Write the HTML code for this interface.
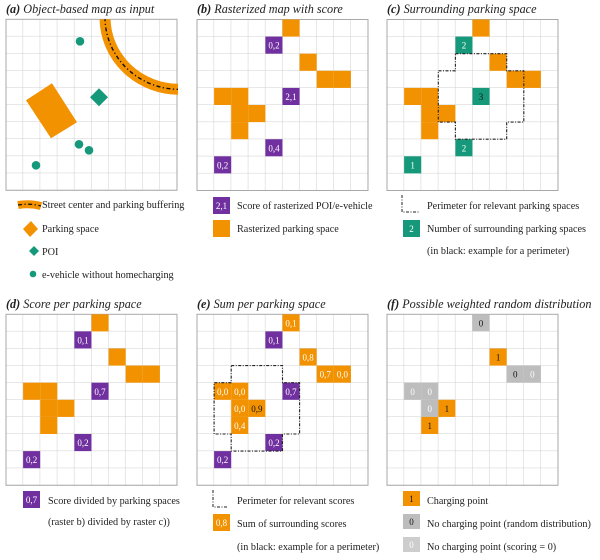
<!DOCTYPE html>
<html><head><meta charset="utf-8"><style>
html,body{margin:0;padding:0;background:#fff}
svg{display:block}
text{font-family:"Liberation Serif",serif}
.t{font-size:12.2px;font-style:italic;fill:#222}
.tb{font-weight:bold}
.l{font-size:10.2px;fill:#222}
.c{font-size:9px;fill:#fff;text-anchor:middle}
.k{fill:#111}
</style></head><body>
<svg width="600" height="560" viewBox="0 0 600 560" xmlns="http://www.w3.org/2000/svg">
<defs>
<pattern id="g" width="17.1" height="17.1" patternUnits="userSpaceOnUse"><path d="M17.1 0V17.1H0" stroke="#cfcfcf" fill="none" stroke-width="1"/></pattern>
<rect id="o" width="17.1" height="17.1" fill="#f39200"/>
<rect id="p" width="17.1" height="17.1" fill="#7030a0"/>
<rect id="q" width="17.1" height="17.1" fill="#16997a"/>
<rect id="y" width="17.1" height="17.1" fill="#bdbdbd"/>
<g id="grid"><rect x="0" y="0" width="171" height="171" fill="url(#g)" stroke="#a8a8a8" stroke-width="1"/></g>
<g id="os">
<use href="#o" x="85.5" y="0"/><use href="#o" x="102.6" y="34.2"/><use href="#o" x="119.7" y="51.3"/><use href="#o" x="136.8" y="51.3"/>
<use href="#o" x="17.1" y="68.4"/><use href="#o" x="34.2" y="68.4"/><use href="#o" x="34.2" y="85.5"/><use href="#o" x="51.3" y="85.5"/><use href="#o" x="34.2" y="102.6"/>
</g>
<clipPath id="ca"><rect x="0" y="0" width="172" height="171"/></clipPath>
</defs>

<text class="t" x="6" y="13"><tspan class="tb">(a)</tspan>  Object-based map as input</text>
<text class="t" x="197" y="13"><tspan class="tb">(b)</tspan>  Rasterized map with score</text>
<text class="t" x="387" y="13"><tspan class="tb">(c)</tspan>  Surrounding parking space</text>
<text class="t" x="6" y="308"><tspan class="tb">(d)</tspan>  Score per parking space</text>
<text class="t" x="197" y="308"><tspan class="tb">(e)</tspan>  Sum per parking space</text>
<text class="t" x="387" y="308"><tspan class="tb">(f)</tspan>  Possible weighted random distribution</text>

<g transform="translate(6,19.3)">
<use href="#grid"/>
<g clip-path="url(#ca)">
<path d="M99 -2 A 74 72 0 0 0 174 70" fill="none" stroke="#f39200" stroke-width="11"/>
<path d="M99 -2 A 74 72 0 0 0 174 70" fill="none" stroke="#111" stroke-width="1.4" stroke-dasharray="4 2.5 1.2 2.5"/>
</g>
<polygon points="20,81 46,64 71,103 45,119" fill="#f39200"/>
<polygon points="93,69 102,78 93,87 84,78" fill="#16997a"/>
<circle cx="74" cy="22" r="4.3" fill="#16997a"/>
<circle cx="73" cy="125" r="4.3" fill="#16997a"/>
<circle cx="83" cy="131" r="4.3" fill="#16997a"/>
<circle cx="30" cy="146" r="4.3" fill="#16997a"/>
</g>

<g transform="translate(197,19.5)">
<use href="#grid"/><use href="#os"/>
<use href="#p" x="68.4" y="17.1"/><text class="c" x="76.95" y="29.2">0,2</text>
<use href="#p" x="85.5" y="68.4"/><text class="c" x="94.05" y="80.5">2,1</text>
<use href="#p" x="68.4" y="119.7"/><text class="c" x="76.95" y="131.8">0,4</text>
<use href="#p" x="17.1" y="136.8"/><text class="c" x="25.65" y="148.9">0,2</text>
</g>

<g transform="translate(387,19.5)">
<use href="#grid"/><use href="#os"/>
<use href="#q" x="68.4" y="17.1"/><text class="c" x="76.95" y="29.2">2</text>
<use href="#q" x="85.5" y="68.4"/><text class="c k" x="94.05" y="80.5">3</text>
<use href="#q" x="68.4" y="119.7"/><text class="c" x="76.95" y="131.8">2</text>
<use href="#q" x="17.1" y="136.8"/><text class="c" x="25.65" y="148.9">1</text>
<polygon points="68.4,34.2 119.7,34.2 119.7,51.3 136.8,51.3 136.8,102.6 119.7,102.6 119.7,119.7 68.4,119.7 68.4,102.6 51.3,102.6 51.3,51.3 68.4,51.3" fill="none" stroke="#222" stroke-width="1.1" stroke-dasharray="3 1.5 1 1.5"/>
</g>

<g transform="translate(6,314.3)">
<use href="#grid"/><use href="#os"/>
<use href="#p" x="68.4" y="17.1"/><text class="c" x="76.95" y="29.2">0,1</text>
<use href="#p" x="85.5" y="68.4"/><text class="c" x="94.05" y="80.5">0,7</text>
<use href="#p" x="68.4" y="119.7"/><text class="c" x="76.95" y="131.8">0,2</text>
<use href="#p" x="17.1" y="136.8"/><text class="c" x="25.65" y="148.9">0,2</text>
</g>

<g transform="translate(197,314.3)">
<use href="#grid"/><use href="#os"/>
<text class="c" x="94.05" y="12.1">0,1</text>
<text class="c" x="111.15" y="46.3">0,8</text>
<text class="c" x="128.25" y="63.4">0,7</text>
<text class="c" x="145.35" y="63.4">0,0</text>
<text class="c" x="25.65" y="80.5">0,0</text>
<text class="c" x="42.75" y="80.5">0,0</text>
<text class="c" x="42.75" y="97.6">0,0</text>
<text class="c k" x="59.85" y="97.6">0,9</text>
<text class="c" x="42.75" y="114.7">0,4</text>
<use href="#p" x="68.4" y="17.1"/><text class="c" x="76.95" y="29.2">0,1</text>
<use href="#p" x="85.5" y="68.4"/><text class="c" x="94.05" y="80.5">0,7</text>
<use href="#p" x="68.4" y="119.7"/><text class="c" x="76.95" y="131.8">0,2</text>
<use href="#p" x="17.1" y="136.8"/><text class="c" x="25.65" y="148.9">0,2</text>
<polygon points="34.2,51.3 85.5,51.3 85.5,68.4 102.6,68.4 102.6,119.7 85.5,119.7 85.5,136.8 34.2,136.8 34.2,119.7 17.1,119.7 17.1,68.4 34.2,68.4" fill="none" stroke="#222" stroke-width="1.1" stroke-dasharray="3 1.5 1 1.5"/>
</g>

<g transform="translate(387,314.3)">
<use href="#grid"/>
<use href="#y" x="85.5" y="0"/><text class="c k" x="94.05" y="12.1">0</text>
<use href="#o" x="102.6" y="34.2"/><text class="c k" x="111.15" y="46.3">1</text>
<use href="#y" x="119.7" y="51.3"/><text class="c k" x="128.25" y="63.4">0</text>
<use href="#y" x="136.8" y="51.3"/><text class="c" x="145.35" y="63.4">0</text>
<use href="#y" x="17.1" y="68.4"/><text class="c" x="25.65" y="80.5">0</text>
<use href="#y" x="34.2" y="68.4"/><text class="c" x="42.75" y="80.5">0</text>
<use href="#y" x="34.2" y="85.5"/><text class="c" x="42.75" y="97.6">0</text>
<use href="#o" x="51.3" y="85.5"/><text class="c k" x="59.85" y="97.6">1</text>
<use href="#o" x="34.2" y="102.6"/><text class="c k" x="42.75" y="114.7">1</text>
</g>

<path d="M18 205 Q30 203 41 206" stroke="#f39200" stroke-width="8" fill="none"/>
<path d="M18 205 Q30 203 41 206" stroke="#111" stroke-width="1.3" fill="none" stroke-dasharray="4 2.5 1.2 2.5"/>
<text class="l" x="42" y="208">Street center and parking buffering</text>
<polygon points="31,221 38,229 30,237 23,229" fill="#f39200"/>
<text class="l" x="42" y="232">Parking space</text>
<polygon points="34,246 39,251 34,256 29,251" fill="#16997a"/>
<text class="l" x="42" y="255">POI</text>
<circle cx="33" cy="274" r="3.3" fill="#16997a"/>
<text class="l" x="42" y="278">e-vehicle without homecharging</text>

<rect x="213" y="197" width="17" height="17" fill="#7030a0"/><text class="c" x="221.5" y="209">2,1</text>
<text class="l" x="237" y="209">Score of rasterized POI/e-vehicle</text>
<rect x="213" y="220" width="17" height="17" fill="#f39200"/>
<text class="l" x="237" y="232">Rasterized parking space</text>

<path d="M402 195 V212 H420" fill="none" stroke="#222" stroke-width="1" stroke-dasharray="3 1.5 1 1.5"/>
<text class="l" x="427" y="209">Perimeter for relevant parking spaces</text>
<rect x="403" y="220" width="17" height="17" fill="#16997a"/><text class="c" x="411.5" y="232">2</text>
<text class="l" x="427" y="232">Number of surrounding parking spaces</text>
<text class="l" x="427" y="254">(in black: example for a perimeter)</text>

<rect x="23" y="491" width="17" height="17" fill="#7030a0"/><text class="c" x="31.5" y="503">0,7</text>
<text class="l" x="48" y="504">Score divided by parking spaces</text>
<text class="l" x="48" y="525">(raster b) divided by raster c))</text>

<path d="M213 490 V507 H228" fill="none" stroke="#222" stroke-width="1" stroke-dasharray="3 1.5 1 1.5"/>
<text class="l" x="237" y="504">Perimeter for relevant scores</text>
<rect x="213" y="514" width="17" height="17" fill="#f39200"/><text class="c" x="221.5" y="526">0,8</text>
<text class="l" x="237" y="527">Sum of surrounding scores</text>
<text class="l" x="237" y="550">(in black: example for a perimeter)</text>

<rect x="403" y="491" width="17" height="15" fill="#f39200"/><text class="c k" x="411.5" y="502">1</text>
<text class="l" x="427" y="504">Charging point</text>
<rect x="403" y="514" width="17" height="15" fill="#bdbdbd"/><text class="c k" x="411.5" y="525">0</text>
<text class="l" x="427" y="527">No charging point (random distribution)</text>
<rect x="403" y="537" width="17" height="15" fill="#cdcdcd"/><text class="c" x="411.5" y="548">0</text>
<text class="l" x="427" y="550">No charging point (scoring = 0)</text>
</svg>
</body></html>
